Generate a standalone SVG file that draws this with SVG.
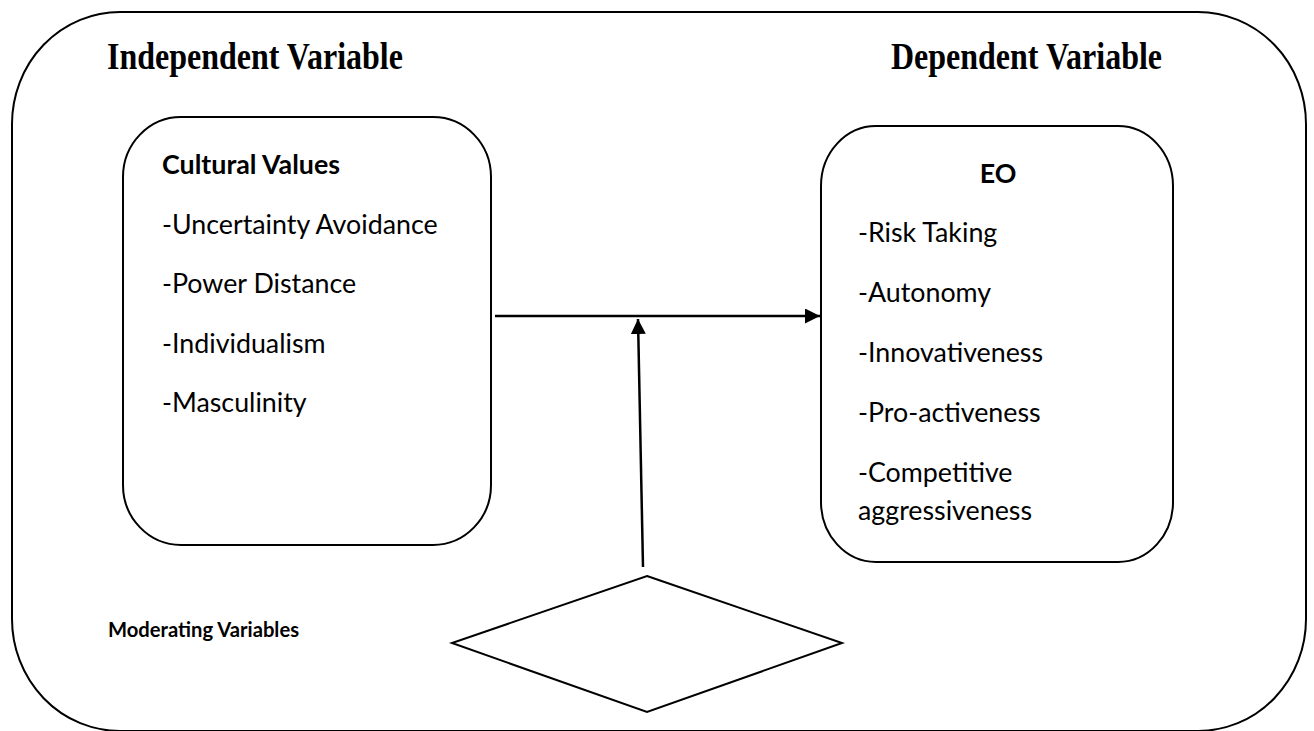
<svg xmlns="http://www.w3.org/2000/svg" width="1314" height="731" viewBox="0 0 1314 731">
  <defs>
    <style>
      .frame { fill: #fff; stroke: #000; stroke-width: 2; }
      .box { fill: #fff; stroke: #000; stroke-width: 2; }
      .link { fill: none; stroke: #000; stroke-width: 2.5; }
      .head { font-family: "Liberation Serif", "Times New Roman", serif; font-weight: bold; font-size: 32px; fill: #000; }
      .title { font-family: Lato, "Noto Sans", sans-serif; font-weight: bold; font-size: 26.8px; fill: #000; }
      .item { font-family: Lato, "Noto Sans", sans-serif; font-size: 26.8px; fill: #000; }
      .small { font-family: Lato, "Noto Sans", sans-serif; font-weight: bold; font-size: 20.2px; fill: #000; }
    </style>
    <marker id="arrow" viewBox="0 0 10 10" refX="10" refY="5" markerWidth="6" markerHeight="6" markerUnits="strokeWidth" orient="auto">
      <path d="M0,0 L10,5 L0,10 Z" fill="#000"/>
    </marker>
  </defs>

  <rect width="1314" height="731" fill="#fff"/>

  <!-- outer frame -->
  <g id="frame">
    <rect class="frame" x="12" y="12" width="1294" height="719" rx="108" ry="112"/>
    <text class="head" transform="translate(107 69) scale(1 1.2)">Independent Variable</text>
    <text class="head" transform="translate(891 69) scale(1 1.2)">Dependent Variable</text>
  </g>

  <!-- independent variable -->
  <g id="cultural-values">
    <rect class="box" x="123" y="117" width="368" height="428" rx="58" ry="60"/>
    <text class="title" x="162" y="174">Cultural Values</text>
    <text class="item" x="162" y="234">-Uncertainty Avoidance</text>
    <text class="item" x="162" y="293">-Power Distance</text>
    <text class="item" x="162" y="353">-Individualism</text>
    <text class="item" x="162" y="412">-Masculinity</text>
  </g>

  <!-- dependent variable -->
  <g id="eo">
    <rect class="box" x="821" y="126" width="352" height="436" rx="55" ry="60"/>
    <text class="title" x="998" y="183" text-anchor="middle">EO</text>
    <text class="item" x="858" y="242">-Risk Taking</text>
    <text class="item" x="858" y="302">-Autonomy</text>
    <text class="item" x="858" y="362">-Innovativeness</text>
    <text class="item" x="858" y="422">-Pro-activeness</text>
    <text class="item" x="858" y="482">-Competitive</text>
    <text class="item" x="858" y="520">aggressiveness</text>
  </g>

  <!-- moderator -->
  <g id="moderator">
    <polygon class="box" points="647,576 842,643 647,712 452,643"/>
    <text class="small" x="108" y="637">Moderating Variables</text>
  </g>

  <!-- connectors -->
  <g id="connectors">
    <line class="link" x1="495" y1="316" x2="820" y2="316" marker-end="url(#arrow)"/>
    <line class="link" x1="643" y1="567" x2="638" y2="319" marker-end="url(#arrow)"/>
  </g>
</svg>
